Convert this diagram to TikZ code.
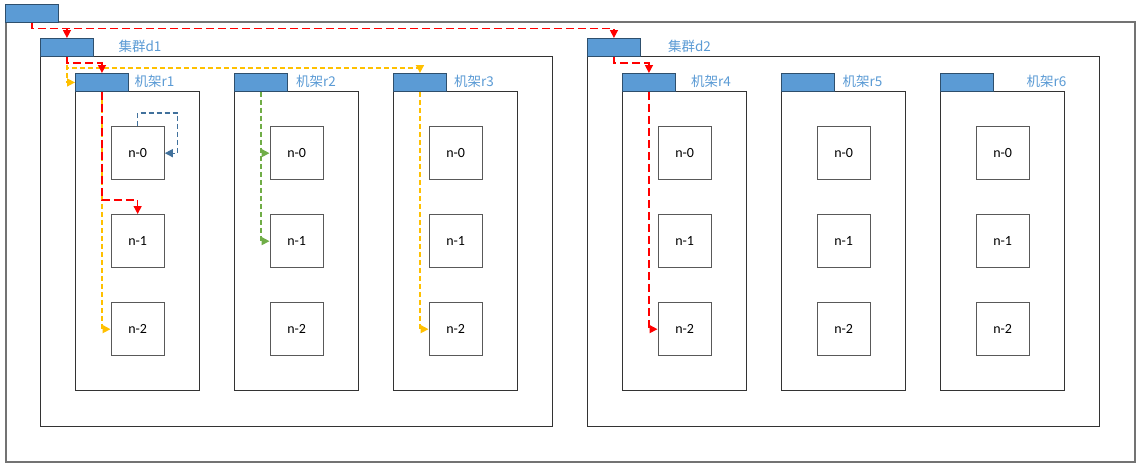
\documentclass[tikz,border=0pt]{standalone}
\usepackage{fontspec}
\newfontfamily\cjk{Noto Sans CJK SC}
\newfontfamily\calib{Carlito}
\usetikzlibrary{arrows.meta,calc}
\definecolor{tabfill}{HTML}{5B9BD5}
\definecolor{tabline}{HTML}{41719C}
\definecolor{lblblue}{HTML}{5B9BD5}
\definecolor{ared}{HTML}{FF0000}
\definecolor{ayellow}{HTML}{FFC000}
\definecolor{agreen}{HTML}{70AD47}
\definecolor{ablue}{HTML}{41719C}
\tikzset{
  box/.style={draw=black!80, line width=0.9pt, fill=white, inner sep=0pt, anchor=north west},
  outerbox/.style={draw=black!55, line width=1.6pt, fill=white, inner sep=0pt, anchor=north west},
  tabbox/.style={draw=tabline!70!black, line width=0.9pt, fill=tabfill, inner sep=0pt, anchor=north west, minimum width=53pt, minimum height=18pt},
  nodebox/.style={draw=black!65, line width=1.3pt, fill=white, inner sep=0pt, anchor=north west, minimum width=53pt, minimum height=53pt},
  ntext/.style={font=\calib\fontsize{14}{16}\selectfont, inner sep=0pt},
  lbl/.style={text=lblblue, font=\cjk\fontsize{13.5}{15}\selectfont, inner sep=0pt},
  redarr/.style={draw=ared, line width=1.4pt, dash pattern=on 8pt off 4pt, -{Triangle[length=8pt,width=8pt]}},
  yelarr/.style={draw=ayellow, line width=1.6pt, dash pattern=on 5pt off 3pt, -{Triangle[length=8pt,width=8pt]}},
  grnarr/.style={draw=agreen, line width=1.5pt, dash pattern=on 5pt off 3pt, -{Triangle[length=8pt,width=8pt]}},
  bluarr/.style={draw=ablue, line width=1.3pt, dash pattern=on 5pt off 3pt, -{Triangle[length=8pt,width=8pt]}},
}
\begin{document}
\begin{tikzpicture}[x=1pt,y=-1pt]
\useasboundingbox (0,0) rectangle (1142,467);
% outer
\node[outerbox, minimum width=1129pt, minimum height=440pt] (outer) at (5,21) {};
\node[tabbox] (otab) at (5,4) {};
% clusters
\node[box, minimum width=512pt, minimum height=370pt] (d1) at (40,56) {};
\node[tabbox] (d1tab) at (40,38) {};
\node[lbl] (d1lbl) at (140,46) {集群d1};
\node[box, minimum width=512pt, minimum height=370pt] (d2) at (587,56) {};
\node[tabbox] (d2tab) at (587,38) {};
\node[lbl] (d2lbl) at (689.5,46) {集群d2};
% racks
\foreach \r/\x/\lx in {1/75/154.5, 2/234/316, 3/393/474, 4/622/711, 5/781/862.5, 6/940/1046.5}{
  \node[box, minimum width=124pt, minimum height=299pt] (r\r) at (\x,91) {};
  \node[tabbox] (r\r tab) at (\x,73) {};
  \node[lbl] (r\r lbl) at (\lx,81) {机架r\r};
  \foreach \n/\y in {0/126, 1/214, 2/302}{
    \node[nodebox] (r\r n\n) at (\x+35.5,\y) {};
    \node[ntext] (r\r n\n t) at (r\r n\n.center) {n-\n};
  }
}
% connectors
\draw[redarr] (otab.south) -- ++(0,5.5) -| (d1tab.north);
\draw[redarr] (otab.south) -- ++(0,5.5) -| (d2tab.north);
\draw[yelarr] (d1tab.south) -- ++(0,11) -| (r3tab.north);
\draw[yelarr] (d1tab.south) |- (r1tab.west);
\draw[redarr] (d1tab.south) -- ++(0,6) -| (r1tab.north);
\draw[yelarr] (r1tab.south) |- (r1n2.west);
\draw[redarr] (r1tab.south) |- ([yshift=14pt]r1n1.north) -- (r1n1.north);
\draw[bluarr] (r1n0.north) -- ++(0,-13) -| ([xshift=13pt]r1n0.east) -- (r1n0.east);
\draw[grnarr] (r2tab.south) |- (r2n1.west);
\draw[grnarr] (r2tab.south) |- (r2n0.west);
\draw[yelarr] (r3tab.south) |- (r3n2.west);
\draw[redarr] (d2tab.south) -- ++(0,6) -| (r4tab.north);
\draw[redarr] (r4tab.south) |- (r4n2.west);
\end{tikzpicture}
\end{document}
